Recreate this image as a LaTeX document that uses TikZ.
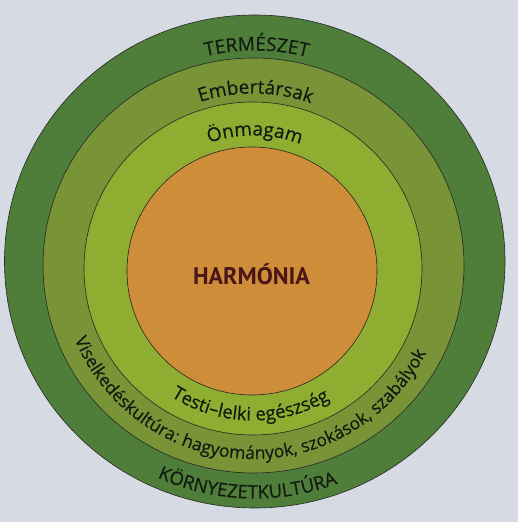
\documentclass[tikz,border=0pt]{standalone}
\usepackage{fontspec}
\usetikzlibrary{decorations.text}
\newfontfamily\osans[FakeBold=0.35]{Open Sans}
\newfontfamily\ptsansb{PT Sans Bold}
\newcommand\topfont{\osans\fontsize{19}{22}\selectfont}
\newcommand\botfont{\osans\fontsize{18.6}{22}\selectfont}
\newcommand\visfont{\osans\fontsize{17.6}{20}\selectfont}
\definecolor{bgc}{RGB}{214,218,226}
\definecolor{outerc}{RGB}{78,126,58}
\definecolor{midc}{RGB}{120,148,55}
\definecolor{innerc}{RGB}{143,173,48}
\definecolor{corec}{RGB}{206,141,56}
\definecolor{txtc}{RGB}{18,26,18}
\definecolor{harmc}{RGB}{75,22,22}
\tikzset{
  ring/.style={draw=black!85, line width=0.6pt},
  arctext/.style={decorate, decoration={text along path, text align=center, text color=txtc, text={#1}}},
}
\begin{document}
\begin{tikzpicture}[x=1pt,y=1pt]
\useasboundingbox (0,0) rectangle (518,522);
\fill[bgc] (0,0) rectangle (518,522);
\coordinate (c1) at (254.75,260.5);
\coordinate (c2) at (253.5,256.5);
\coordinate (c3) at (253,253.5);
\coordinate (c4) at (252,251);
\draw[ring, fill=outerc] (c1) ellipse [x radius=250.25, y radius=246.5];
\draw[ring, fill=midc] (c2) ellipse [x radius=210.5, y radius=207.5];
\draw[ring, fill=innerc] (c3) ellipse [x radius=169, y radius=166.5];
\draw[ring, fill=corec] (c4) ellipse [x radius=125, y radius=124];
\node[font=\ptsansb\fontsize{24}{27}\selectfont, text=harmc, anchor=base] (harm) at (251.5,237.7) {HARMÓNIA};
% top texts
\path[arctext={|\topfont|TERMÉSZET}] (c1) ++(149.5:211) arc[start angle=149.5, end angle=29.5, radius=211];
\path[arctext={|\topfont|Embertársak}] (c2) ++(149.3:172) arc[start angle=149.3, end angle=29.3, radius=172];
\path[arctext={|\topfont|Önmagam}] (c3) ++(149.2:133) arc[start angle=149.2, end angle=29.2, radius=133];
% bottom texts
\path[arctext={|\botfont|Testi–lelki egészség}] (c3) ++(208.9:152) arc[start angle=208.9, end angle=328.9, radius=152];
\path[arctext={|\visfont|Viselkedéskultúra: hagyományok, szokások, szabályok}] (c2) ++(190:193.5) arc[start angle=190, end angle=345.6, radius=193.5];
\path[arctext={|\botfont|KÖRNYEZETKULTÚRA}] (c1) ++(208.1:237) arc[start angle=208.1, end angle=328.1, radius=237];
\end{tikzpicture}
\end{document}
